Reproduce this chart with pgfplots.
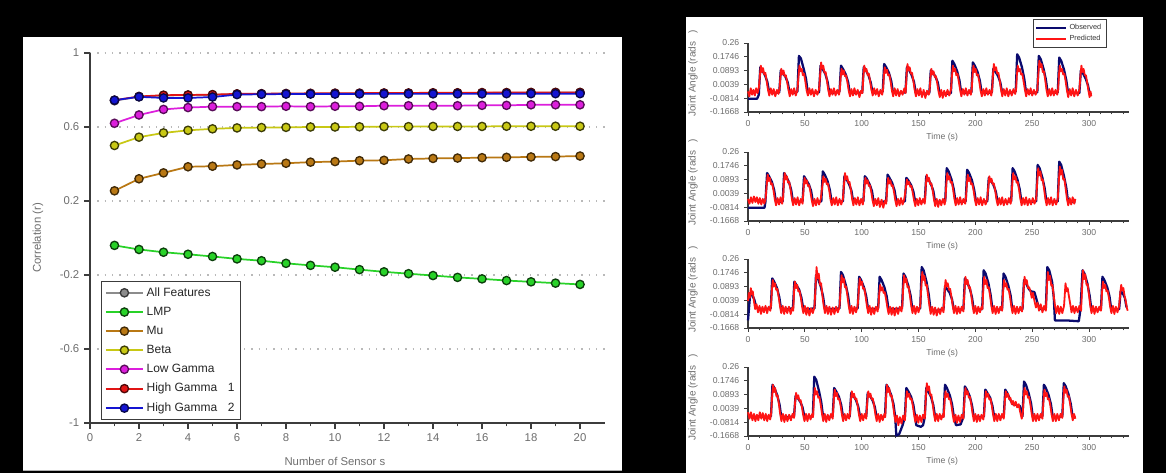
\documentclass[border=0pt]{standalone}
\usepackage{fontspec}
\setmainfont{Liberation Sans}
\usepackage{pgfplots}
\pgfplotsset{compat=1.18}
\definecolor{allf}{RGB}{140,140,140}
\definecolor{lmp}{RGB}{40,210,40}
\definecolor{mu}{RGB}{185,120,20}
\definecolor{beta}{RGB}{200,200,20}
\definecolor{lowg}{RGB}{220,30,220}
\definecolor{hga}{RGB}{225,20,20}
\definecolor{hgb}{RGB}{20,20,210}
\definecolor{obs}{RGB}{10,10,110}
\definecolor{pred}{RGB}{255,20,20}
\definecolor{tk}{RGB}{110,110,110}
\definecolor{ax}{RGB}{60,60,60}
\pgfplotsset{
 ts/.style={scale only axis, width=285.6pt, height=51.75pt, anchor=south west,
  xmin=0, xmax=335, ymin=-0.1668, ymax=0.26,
  axis x line*=bottom, axis y line*=left, axis line style={ax, line width=0.9pt},
  xtick={0,50,...,300}, xticklabels={0,50,100,150,200,250,300},
  minor xtick={10,20,...,330},
  ytick={-0.1668,-0.0814,0.0039,0.0893,0.1746,0.26},
  yticklabels={-0.1668,-0.0814,0.0039,0.0893,0.1746,0.26},
  tick align=outside, major tick length=3pt, minor tick length=1.8pt,
  tick style={ax, line width=0.7pt},
  ticklabel style={font=\fontsize{6.5}{7}\selectfont, text=tk},
  xlabel={Time (s)}, ylabel={Joint Angle (rads\ \ \ )},
  every axis x label/.style={at={(axis description cs:0.51,-0.36)}, anchor=center, font=\fontsize{6.5}{7}\selectfont, text=tk},
  every axis y label/.style={at={(axis description cs:-0.1445,0.56)}, rotate=90, anchor=center, font=\fontsize{7.5}{8}\selectfont, text=tk},
  clip=false},
 obsline/.style={color=obs, line width=1.7pt, line join=round},
 predline/.style={color=pred, line width=1.35pt, line join=round},
}
\begin{document}
\begin{tikzpicture}
\fill[black] (0,0) rectangle (874.5pt,354.75pt);
\fill[white] (17.25pt,1.5pt) rectangle (466.5pt,327pt);
\draw[gray!60, line width=0.6pt] (17.25pt,1.8pt) -- (466.5pt,1.8pt);
\fill[white] (514.5pt,0pt) rectangle (857.25pt,342pt);

% ---------------- left chart ----------------
\begin{axis}[scale only axis, width=385.9pt, height=277.5pt, at={(67.5pt,37.5pt)}, anchor=south west,
  xmin=0, xmax=21, ymin=-1, ymax=1,
  axis x line*=bottom, axis y line*=left, axis line style={ax, line width=1pt},
  xtick={0,2,...,20}, minor xtick={1,3,...,19},
  xticklabels={0,2,4,6,8,10,12,14,16,18,20},
  ytick={-1,-0.6,-0.2,0.2,0.6,1}, yticklabels={-1,-0.6,-0.2,0.2,0.6,1},
  tick align=outside, major tick length=4.5pt, minor tick length=2.5pt,
  tick style={ax, line width=0.9pt},
  ymajorgrids, grid style={gray!55, line width=0.9pt, dash pattern=on 1pt off 4.5pt},
  ticklabel style={font=\fontsize{8.5}{10}\selectfont, text=tk},
  xlabel={Number of Sensor s}, ylabel={Correlation (r)},
  every axis x label/.style={at={(axis description cs:0.476,-0.1045)}, anchor=center, font=\fontsize{8.5}{10}\selectfont, text=tk},
  every axis y label/.style={at={(axis description cs:-0.101,0.5)}, rotate=90, anchor=center, font=\fontsize{8.5}{10}\selectfont, text=tk},
  every axis plot/.append style={line width=1.3pt, mark=*, mark size=3.1pt},
  legend style={at={(axis cs:0.45,-0.232)}, anchor=north west, draw=ax, line width=0.8pt,
    fill=white, font=\fontsize{9}{10}\selectfont, text=black!85, inner sep=2.5pt, row sep=2.6pt},
  legend cell align=left,
  legend image code/.code={\draw[mark repeat=2,mark phase=2] plot coordinates {(0pt,0pt) (14pt,0pt) (28pt,0pt)};},
  clip=false]
\addplot[color=allf, mark options={solid, fill=allf, draw=allf!40!black, line width=1pt}] coordinates {
(1,0.742)(2,0.764)(3,0.770)(4,0.772)(5,0.774)(6,0.778)(7,0.779)(8,0.780)(9,0.780)(10,0.781)
(11,0.781)(12,0.782)(13,0.782)(14,0.783)(15,0.783)(16,0.784)(17,0.785)(18,0.785)(19,0.786)(20,0.786)};
\addplot[color=lmp, mark options={solid, fill=lmp, draw=lmp!30!black, line width=1pt}] coordinates {
(1,-0.040)(2,-0.062)(3,-0.077)(4,-0.088)(5,-0.100)(6,-0.113)(7,-0.123)(8,-0.137)(9,-0.148)(10,-0.158)
(11,-0.171)(12,-0.183)(13,-0.193)(14,-0.203)(15,-0.213)(16,-0.221)(17,-0.230)(18,-0.237)(19,-0.244)(20,-0.251)};
\addplot[color=mu, mark options={solid, fill=mu, draw=mu!35!black, line width=1pt}] coordinates {
(1,0.255)(2,0.320)(3,0.352)(4,0.385)(5,0.388)(6,0.395)(7,0.400)(8,0.404)(9,0.410)(10,0.413)
(11,0.418)(12,0.420)(13,0.427)(14,0.430)(15,0.432)(16,0.434)(17,0.436)(18,0.438)(19,0.440)(20,0.443)};
\addplot[color=beta, mark options={solid, fill=beta, draw=beta!30!black, line width=1pt}] coordinates {
(1,0.500)(2,0.545)(3,0.568)(4,0.582)(5,0.590)(6,0.595)(7,0.597)(8,0.598)(9,0.600)(10,0.600)
(11,0.601)(12,0.602)(13,0.602)(14,0.603)(15,0.603)(16,0.603)(17,0.604)(18,0.604)(19,0.604)(20,0.604)};
\addplot[color=lowg, mark options={solid, fill=lowg, draw=lowg!40!black, line width=1pt}] coordinates {
(1,0.620)(2,0.665)(3,0.695)(4,0.705)(5,0.710)(6,0.710)(7,0.710)(8,0.712)(9,0.710)(10,0.712)
(11,0.712)(12,0.715)(13,0.715)(14,0.715)(15,0.715)(16,0.717)(17,0.717)(18,0.720)(19,0.720)(20,0.720)};
\addplot[color=hga, mark options={solid, fill=hga, draw=hga!35!black, line width=1pt}] coordinates {
(1,0.745)(2,0.765)(3,0.772)(4,0.773)(5,0.775)(6,0.779)(7,0.780)(8,0.781)(9,0.782)(10,0.783)
(11,0.783)(12,0.784)(13,0.784)(14,0.785)(15,0.785)(16,0.786)(17,0.786)(18,0.787)(19,0.787)(20,0.787)};
\addplot[color=hgb, mark options={solid, fill=hgb, draw=hgb!35!black, line width=1pt}] coordinates {
(1,0.745)(2,0.763)(3,0.757)(4,0.757)(5,0.762)(6,0.775)(7,0.777)(8,0.778)(9,0.778)(10,0.778)
(11,0.779)(12,0.779)(13,0.779)(14,0.779)(15,0.779)(16,0.779)(17,0.780)(18,0.780)(19,0.780)(20,0.780)};
\legend{All Features, LMP, Mu, Beta, Low Gamma, High Gamma\hspace{8pt}1, High Gamma\hspace{8pt}2}
\end{axis}

% ---------------- subplot 1 ----------------
\begin{axis}[ts, at={(561pt,270.75pt)},
  legend style={at={(axis description cs:0.748,1.348)}, anchor=north west, draw=ax, line width=0.6pt,
    fill=white, font=\fontsize{5.5}{6}\selectfont, text=black!80, inner sep=1.5pt, row sep=-1pt},
  legend cell align=left,
  legend image code/.code={\draw (0pt,0pt) -- (22pt,0pt);}]
\addplot[obsline] coordinates {
(0,-0.085)(8,-0.085)(9.5,-0.06)
(10.8,0.11)(12.5,0.09)(15,0.06)(17,0.02)(18.5,-0.04)(23,-0.05)
(27.5,-0.045)(28.8,0.09)(30.5,0.075)(33,0.05)(35,0.015)(36.5,-0.045)(40,-0.05)
(43.5,-0.04)(44.8,0.18)(46.5,0.165)(49,0.10)(51,0.04)(52.5,-0.04)(57,-0.05)
(62.5,-0.045)(63.8,0.12)(65.5,0.10)(68,0.07)(70,0.02)(71.5,-0.045)(76,-0.05)
(80.5,-0.04)(81.8,0.12)(83.5,0.10)(86,0.065)(88,0.02)(89.5,-0.045)(95,-0.05)
(100.5,-0.045)(101.8,0.11)(103.5,0.095)(106,0.06)(108,0.015)(109.5,-0.045)(114,-0.05)
(118.5,-0.04)(119.8,0.13)(121.5,0.11)(124,0.075)(126,0.025)(127.5,-0.045)(133,-0.05)
(138.5,-0.045)(139.8,0.11)(141.5,0.095)(144,0.06)(146,0.02)(147.5,-0.045)(154,-0.055)
(159.5,-0.05)(160.8,0.09)(162.5,0.08)(165,0.05)(167,0.015)(168.5,-0.05)(174,-0.055)
(178.5,-0.05)(179.8,0.15)(181.5,0.13)(184,0.085)(186,0.03)(187.5,-0.045)(192,-0.05)
(196.5,-0.045)(197.8,0.14)(199.5,0.12)(202,0.08)(204,0.025)(205.5,-0.045)(210,-0.05)
(214.5,-0.045)(215.8,0.10)(217.5,0.085)(220,0.055)(222,0.015)(223.5,-0.045)(230,-0.05)
(235.5,-0.04)(236.8,0.19)(238.5,0.17)(241,0.11)(243,0.04)(244.5,-0.04)(250,-0.05)
(254.5,-0.045)(255.8,0.18)(257.5,0.16)(260,0.10)(262,0.035)(263.5,-0.04)(268,-0.05)
(272.5,-0.045)(273.8,0.17)(275.5,0.15)(278,0.095)(280,0.03)(281.5,-0.045)(287,-0.05)
(291.5,-0.05)(292.8,0.09)(294.5,0.075)(297,0.04)(299,0.0)(300.5,-0.05)(302,-0.06)};
\addplot[predline] coordinates {
(0,-0.04)(1.2,-0.07)(2.4,-0.02)(3.6,-0.06)(4.8,-0.03)(6,-0.065)(7.2,-0.02)(8.4,-0.05)(9.5,-0.02)
(10.5,0.06)(11.3,0.12)(12.2,0.08)(13.2,0.105)(14.3,0.065)(15.3,0.075)(16.5,0.02)(17.6,-0.03)(18.7,-0.065)(20,-0.02)(21.3,-0.06)(22.6,-0.025)(24,-0.07)(25.5,-0.03)(26.8,-0.055)(27.8,-0.02)
(28.5,0.05)(29.3,0.10)(30.2,0.065)(31.2,0.09)(32.3,0.055)(33.3,0.06)(34.5,0.015)(35.6,-0.03)(36.7,-0.07)(38,-0.025)(39.3,-0.06)(40.6,-0.02)(42,-0.065)(43.5,-0.03)
(44.5,0.06)(45.3,0.12)(46.2,0.085)(47.2,0.10)(48.3,0.06)(49.3,0.07)(50.5,0.02)(51.6,-0.035)(52.7,-0.065)(54,-0.02)(55.3,-0.06)(56.6,-0.025)(58,-0.07)(59.5,-0.03)(61,-0.06)(62.5,-0.025)
(63.5,0.07)(64.3,0.14)(65.2,0.10)(66.2,0.12)(67.3,0.075)(68.3,0.08)(69.5,0.025)(70.6,-0.03)(71.7,-0.07)(73,-0.025)(74.3,-0.06)(75.6,-0.02)(77,-0.065)(78.5,-0.03)(80,-0.06)(80.8,-0.03)
(81.5,0.05)(82.3,0.10)(83.2,0.065)(84.2,0.09)(85.3,0.055)(86.3,0.06)(87.5,0.015)(88.6,-0.035)(89.7,-0.07)(91,-0.025)(92.3,-0.065)(93.6,-0.02)(95,-0.06)(96.5,-0.03)(98,-0.075)(99.5,-0.035)(100.7,-0.05)
(101.5,0.06)(102.3,0.12)(103.2,0.085)(104.2,0.10)(105.3,0.06)(106.3,0.07)(107.5,0.02)(108.6,-0.03)(109.7,-0.065)(111,-0.02)(112.3,-0.06)(113.6,-0.025)(115,-0.07)(116.5,-0.03)(118,-0.06)(118.8,-0.03)
(119.5,0.055)(120.3,0.11)(121.2,0.075)(122.2,0.095)(123.3,0.06)(124.3,0.065)(125.5,0.02)(126.6,-0.035)(127.7,-0.07)(129,-0.02)(130.3,-0.065)(131.6,-0.025)(133,-0.07)(134.5,-0.035)(136,-0.06)(137.5,-0.02)(138.7,-0.05)
(139.5,0.065)(140.3,0.13)(141.2,0.09)(142.2,0.11)(143.3,0.07)(144.3,0.075)(145.5,0.025)(146.6,-0.03)(147.7,-0.07)(149,-0.025)(150.3,-0.065)(151.6,-0.02)(153,-0.075)(154.5,-0.03)(156,-0.08)(157.5,-0.035)(159,-0.06)(159.8,-0.03)
(160.5,0.05)(161.3,0.10)(162.2,0.065)(163.2,0.085)(164.3,0.05)(165.3,0.055)(166.5,0.01)(167.6,-0.04)(168.7,-0.075)(170,-0.03)(171.3,-0.08)(172.6,-0.035)(174,-0.07)(175.5,-0.03)(177,-0.065)(178.5,-0.03)
(179.5,0.06)(180.3,0.12)(181.2,0.085)(182.2,0.10)(183.3,0.06)(184.3,0.07)(185.5,0.02)(186.6,-0.03)(187.7,-0.07)(189,-0.025)(190.3,-0.06)(191.6,-0.02)(193,-0.065)(194.5,-0.03)(196,-0.06)(196.8,-0.03)
(197.5,0.06)(198.3,0.12)(199.2,0.08)(200.2,0.10)(201.3,0.06)(202.3,0.065)(203.5,0.02)(204.6,-0.035)(205.7,-0.07)(207,-0.025)(208.3,-0.065)(209.6,-0.02)(211,-0.06)(212.5,-0.03)(214,-0.065)(214.8,-0.03)
(215.5,0.065)(216.3,0.13)(217.2,0.09)(218.2,0.11)(219.3,0.07)(220.3,0.075)(221.5,0.025)(222.6,-0.03)(223.7,-0.07)(225,-0.025)(226.3,-0.065)(227.6,-0.02)(229,-0.07)(230.5,-0.03)(232,-0.065)(233.5,-0.025)(235,-0.055)(235.8,-0.03)
(236.5,0.06)(237.3,0.12)(238.2,0.085)(239.2,0.10)(240.3,0.065)(241.3,0.07)(242.5,0.02)(243.6,-0.03)(244.7,-0.07)(246,-0.025)(247.3,-0.06)(248.6,-0.02)(250,-0.065)(251.5,-0.03)(253,-0.06)(254.5,-0.03)
(255.5,0.075)(256.3,0.15)(257.2,0.11)(258.2,0.13)(259.3,0.08)(260.3,0.085)(261.5,0.03)(262.6,-0.03)(263.7,-0.07)(265,-0.025)(266.3,-0.065)(267.6,-0.02)(269,-0.065)(270.5,-0.03)(272,-0.06)(272.8,-0.03)
(273.5,0.06)(274.3,0.12)(275.2,0.085)(276.2,0.10)(277.3,0.065)(278.3,0.07)(279.5,0.02)(280.6,-0.035)(281.7,-0.075)(283,-0.025)(284.3,-0.065)(285.6,-0.02)(287,-0.07)(288.5,-0.03)(290,-0.065)(291.5,-0.03)
(292.5,0.06)(293.3,0.12)(294.2,0.08)(295.2,0.10)(296.3,0.06)(297.3,0.06)(298.5,0.01)(299.6,-0.04)(300.5,-0.075)(301.3,-0.04)(302,-0.07)};
\addlegendimage{obs, line width=2.2pt}
\legend{Observed, Predicted}
\end{axis}

% ---------------- subplot 2 ----------------
\begin{axis}[ts, at={(561pt,189pt)}]
\addplot[obsline] coordinates {
(0,-0.085)(14.5,-0.085)(15.3,-0.05)
(16.8,0.13)(18.5,0.11)(21,0.075)(23,0.025)(24.5,-0.045)(28,-0.05)(30.5,-0.045)
(31.8,0.13)(33.5,0.11)(36,0.075)(38,0.025)(39.5,-0.045)(44,-0.05)(48,-0.045)
(49.3,0.11)(51,0.09)(53.5,0.06)(55.5,0.02)(57,-0.045)(61,-0.05)(64.5,-0.045)
(65.8,0.14)(67.5,0.12)(70,0.08)(72,0.025)(73.5,-0.045)(78,-0.05)(83.5,-0.045)
(84.8,0.11)(86.5,0.095)(89,0.06)(91,0.02)(92.5,-0.045)(97,-0.05)(101.5,-0.045)
(102.8,0.11)(104.5,0.095)(107,0.06)(109,0.02)(110.5,-0.045)(116,-0.05)(121.5,-0.045)
(122.8,0.12)(124.5,0.10)(127,0.065)(129,0.02)(130.5,-0.045)(134,-0.05)(138,-0.045)
(139.3,0.10)(141,0.085)(143.5,0.055)(145.5,0.015)(147,-0.045)(151,-0.05)(155.5,-0.045)
(156.8,0.11)(158.5,0.095)(161,0.06)(163,0.02)(164.5,-0.045)(169,-0.05)(173.5,-0.045)
(174.8,0.16)(176.5,0.14)(179,0.09)(181,0.03)(182.5,-0.045)(187,-0.05)(191.5,-0.045)
(192.8,0.15)(194.5,0.13)(197,0.085)(199,0.025)(200.5,-0.045)(205,-0.05)(210.5,-0.045)
(211.8,0.10)(213.5,0.085)(216,0.055)(218,0.015)(219.5,-0.045)(225,-0.05)(231.5,-0.045)
(232.8,0.16)(234.5,0.14)(237,0.09)(239,0.03)(240.5,-0.045)(246,-0.05)(253.5,-0.045)
(254.8,0.18)(256.5,0.16)(259,0.10)(261,0.035)(262.5,-0.045)(267,-0.05)(272.5,-0.045)
(273.8,0.20)(275.5,0.18)(278,0.11)(280,0.04)(281.5,-0.045)(285,-0.05)(288,-0.05)};
\addplot[predline] coordinates {
(0,-0.03)(1.3,-0.06)(2.6,-0.02)(3.9,-0.055)(5.2,-0.015)(6.5,-0.05)(7.8,-0.02)(9.1,-0.06)(10.4,-0.025)(11.7,-0.065)(13,-0.03)(14.3,-0.06)(15.5,-0.03)
(16.5,0.06)(17.3,0.12)(18.2,0.08)(19.2,0.10)(20.3,0.06)(21.3,0.065)(22.5,0.02)(23.6,-0.035)(24.7,-0.07)(26,-0.025)(27.3,-0.065)(28.6,-0.02)(30,-0.06)(30.8,-0.03)
(31.5,0.065)(32.3,0.13)(33.2,0.09)(34.2,0.11)(35.3,0.07)(36.3,0.075)(37.5,0.025)(38.6,-0.03)(39.7,-0.07)(41,-0.025)(42.3,-0.065)(43.6,-0.02)(45,-0.07)(46.5,-0.03)(48,-0.06)
(49,0.05)(49.8,0.10)(50.7,0.065)(51.7,0.085)(52.8,0.05)(53.8,0.055)(55,0.01)(56.1,-0.04)(57.2,-0.075)(58.5,-0.03)(59.8,-0.07)(61.1,-0.025)(62.5,-0.065)(64,-0.03)
(65.5,0.055)(66.3,0.11)(67.2,0.075)(68.2,0.095)(69.3,0.06)(70.3,0.065)(71.5,0.02)(72.6,-0.035)(73.7,-0.07)(75,-0.025)(76.3,-0.065)(77.6,-0.02)(79,-0.07)(80.5,-0.03)(82,-0.065)(83.5,-0.03)
(84.5,0.065)(85.3,0.13)(86.2,0.09)(87.2,0.11)(88.3,0.07)(89.3,0.075)(90.5,0.025)(91.6,-0.03)(92.7,-0.07)(94,-0.025)(95.3,-0.065)(96.6,-0.02)(98,-0.07)(99.5,-0.03)(101,-0.065)(101.7,-0.03)
(102.5,0.05)(103.3,0.10)(104.2,0.065)(105.2,0.085)(106.3,0.05)(107.3,0.055)(108.5,0.01)(109.6,-0.04)(110.7,-0.075)(112,-0.03)(113.3,-0.07)(114.6,-0.025)(116,-0.08)(117.5,-0.035)(119,-0.085)(120.5,-0.04)(121.6,-0.06)
(122.5,0.05)(123.3,0.10)(124.2,0.065)(125.2,0.085)(126.3,0.05)(127.3,0.055)(128.5,0.01)(129.6,-0.04)(130.7,-0.075)(132,-0.03)(133.3,-0.07)(134.6,-0.025)(136,-0.065)(137.5,-0.03)
(139,0.045)(139.8,0.09)(140.7,0.06)(141.7,0.075)(142.8,0.045)(143.8,0.05)(145,0.005)(146.1,-0.04)(147.2,-0.075)(148.5,-0.03)(149.8,-0.07)(151.1,-0.025)(152.5,-0.065)(154,-0.03)(155.5,-0.06)
(156.5,0.06)(157.3,0.12)(158.2,0.08)(159.2,0.10)(160.3,0.06)(161.3,0.065)(162.5,0.02)(163.6,-0.035)(164.7,-0.075)(166,-0.03)(167.3,-0.08)(168.6,-0.035)(170,-0.07)(171.5,-0.03)(173,-0.065)(173.7,-0.03)
(174.5,0.065)(175.3,0.13)(176.2,0.09)(177.2,0.11)(178.3,0.07)(179.3,0.075)(180.5,0.025)(181.6,-0.03)(182.7,-0.07)(184,-0.025)(185.3,-0.065)(186.6,-0.02)(188,-0.065)(189.5,-0.03)(191,-0.06)(191.7,-0.03)
(192.5,0.06)(193.3,0.12)(194.2,0.08)(195.2,0.10)(196.3,0.06)(197.3,0.065)(198.5,0.02)(199.6,-0.035)(200.7,-0.07)(202,-0.025)(203.3,-0.065)(204.6,-0.02)(206,-0.07)(207.5,-0.03)(209,-0.065)(210.5,-0.03)
(211.5,0.055)(212.3,0.11)(213.2,0.075)(214.2,0.095)(215.3,0.06)(216.3,0.065)(217.5,0.02)(218.6,-0.035)(219.7,-0.07)(221,-0.025)(222.3,-0.065)(223.6,-0.02)(225,-0.07)(226.5,-0.03)(228,-0.065)(229.5,-0.025)(231,-0.06)(231.7,-0.03)
(232.5,0.065)(233.3,0.13)(234.2,0.09)(235.2,0.11)(236.3,0.07)(237.3,0.075)(238.5,0.025)(239.6,-0.03)(240.7,-0.07)(242,-0.025)(243.3,-0.065)(244.6,-0.02)(246,-0.07)(247.5,-0.03)(249,-0.065)(250.5,-0.025)(252,-0.06)(253.5,-0.03)
(254.5,0.08)(255.3,0.16)(256.2,0.115)(257.2,0.14)(258.3,0.085)(259.3,0.09)(260.5,0.03)(261.6,-0.03)(262.7,-0.07)(264,-0.025)(265.3,-0.065)(266.6,-0.02)(268,-0.07)(269.5,-0.03)(271,-0.065)(272.5,-0.03)
(273.5,0.085)(274.3,0.17)(275.2,0.12)(276.2,0.15)(277.3,0.09)(278.3,0.095)(279.5,0.03)(280.6,-0.03)(281.7,-0.07)(283,-0.025)(284.3,-0.065)(285.6,-0.02)(287,-0.06)(288,-0.03)};
\end{axis}

% ---------------- subplot 3 ----------------
\begin{axis}[ts, at={(561pt,108.75pt)}]
\addplot[obsline] coordinates {
(0,-0.12)(0.8,-0.05)(2,0.05)(3.5,0.04)(5.5,0.01)(7,-0.03)(8.5,-0.045)(14,-0.05)(20,-0.045)
(21.3,0.14)(23,0.12)(25.5,0.08)(27.5,0.025)(29,-0.045)(34,-0.05)(39.5,-0.045)
(40.8,0.12)(42.5,0.10)(45,0.07)(47,0.02)(48.5,-0.045)(53,-0.05)(58.5,-0.045)
(59.8,0.16)(61.5,0.14)(64,0.09)(66,0.03)(67.5,-0.045)(74,-0.05)(80.5,-0.045)
(81.8,0.18)(83.5,0.16)(86,0.10)(88,0.035)(89.5,-0.045)(93,-0.05)(96.5,-0.045)
(97.8,0.15)(99.5,0.13)(102,0.085)(104,0.03)(105.5,-0.045)(110,-0.05)(114.5,-0.045)
(115.8,0.15)(117.5,0.13)(120,0.085)(122,0.03)(123.5,-0.045)(129,-0.05)(135.5,-0.045)
(136.8,0.17)(138.5,0.15)(141,0.095)(143,0.035)(144.5,-0.045)(148,-0.05)(151.5,-0.045)
(152.8,0.21)(154.5,0.19)(157,0.12)(159,0.04)(160.5,-0.05)(166,-0.06)(172,-0.05)
(173.3,0.09)(175,0.075)(177.5,0.05)(179.5,0.01)(181,-0.05)(185,-0.055)(189.5,-0.05)
(190.8,0.14)(192.5,0.12)(195,0.08)(197,0.025)(198.5,-0.05)(202,-0.055)(206,-0.05)
(207.3,0.19)(209,0.17)(211.5,0.11)(213.5,0.035)(215,-0.05)(219,-0.055)(223.5,-0.05)
(224.8,0.17)(226.5,0.15)(229,0.095)(231,0.035)(232.5,-0.05)(237,-0.055)(241.5,-0.05)
(242.8,0.13)(244.5,0.11)(247,0.075)(249,0.06)(252,0.055)(255,-0.02)(257,-0.05)(262,-0.05)
(263.3,0.21)(265,0.19)(267.5,0.12)(269,0.02)(270,-0.12)(280,-0.12)(291,-0.125)(292.5,-0.05)
(294.3,0.19)(296,0.17)(298.5,0.11)(300.5,0.035)(302,-0.05)(306,-0.055)(310.5,-0.05)
(311.8,0.15)(313.5,0.13)(316,0.085)(318,0.03)(319.5,-0.05)(323,-0.055)(326.5,-0.05)
(327.8,0.06)(329.5,0.05)(331.5,0.02)(333,-0.04)};
\addplot[predline] coordinates {
(0,0.0)(0.8,0.05)(1.6,0.02)(2.5,0.08)(3.3,0.04)(4.2,0.06)(5.2,0.0)(6.3,-0.05)(7.5,-0.02)(8.8,-0.07)(10.1,-0.03)(11.4,-0.08)(12.7,-0.035)(14,-0.07)(15.4,-0.03)(16.8,-0.075)(18.2,-0.035)(19.6,-0.06)(20.2,-0.03)
(21,0.065)(21.8,0.13)(22.7,0.09)(23.7,0.11)(24.8,0.07)(25.8,0.075)(27,0.025)(28.1,-0.03)(29.2,-0.075)(30.5,-0.03)(31.8,-0.08)(33.1,-0.035)(34.5,-0.075)(36,-0.035)(37.5,-0.08)(39,-0.04)(39.8,-0.06)
(40.5,0.06)(41.3,0.12)(42.2,0.08)(43.2,0.10)(44.3,0.06)(45.3,0.065)(46.5,0.02)(47.6,-0.035)(48.7,-0.075)(50,-0.03)(51.3,-0.085)(52.6,-0.04)(54,-0.09)(55.5,-0.045)(57,-0.075)(58.5,-0.035)
(59.5,0.10)(60.3,0.21)(61.2,0.14)(62.2,0.17)(63.3,0.10)(64.3,0.11)(65.5,0.03)(66.6,-0.03)(67.7,-0.075)(69,-0.03)(70.3,-0.08)(71.6,-0.035)(73,-0.085)(74.5,-0.04)(76,-0.08)(77.5,-0.035)(79,-0.07)(80.5,-0.035)
(81.5,0.08)(82.3,0.16)(83.2,0.115)(84.2,0.14)(85.3,0.085)(86.3,0.09)(87.5,0.03)(88.6,-0.03)(89.7,-0.075)(91,-0.03)(92.3,-0.08)(93.6,-0.035)(95,-0.07)(96.5,-0.03)
(97.5,0.07)(98.3,0.14)(99.2,0.10)(100.2,0.12)(101.3,0.075)(102.3,0.08)(103.5,0.025)(104.6,-0.03)(105.7,-0.075)(107,-0.03)(108.3,-0.085)(109.6,-0.04)(111,-0.08)(112.5,-0.035)(114,-0.065)(114.7,-0.03)
(115.5,0.05)(116.3,0.10)(117.2,0.065)(118.2,0.085)(119.3,0.05)(120.3,0.055)(121.5,0.01)(122.6,-0.04)(123.7,-0.08)(125,-0.035)(126.3,-0.085)(127.6,-0.04)(129,-0.09)(130.5,-0.04)(132,-0.08)(133.5,-0.035)(135,-0.065)(135.7,-0.03)
(136.5,0.08)(137.3,0.16)(138.2,0.115)(139.2,0.14)(140.3,0.085)(141.3,0.09)(142.5,0.03)(143.6,-0.03)(144.7,-0.075)(146,-0.03)(147.3,-0.08)(148.6,-0.035)(150,-0.07)(151.5,-0.03)
(152.5,0.09)(153.3,0.18)(154.2,0.13)(155.2,0.155)(156.3,0.095)(157.3,0.10)(158.5,0.03)(159.6,-0.03)(160.7,-0.08)(162,-0.035)(163.3,-0.085)(164.6,-0.04)(166,-0.09)(167.5,-0.045)(169,-0.08)(170.5,-0.04)(172,-0.07)
(173,0.065)(173.8,0.13)(174.7,0.09)(175.7,0.11)(176.8,0.07)(177.8,0.075)(179,0.025)(180.1,-0.03)(181.2,-0.075)(182.5,-0.03)(183.8,-0.08)(185.1,-0.035)(186.5,-0.075)(188,-0.035)(189.5,-0.065)
(190.5,0.075)(191.3,0.15)(192.2,0.105)(193.2,0.13)(194.3,0.08)(195.3,0.085)(196.5,0.03)(197.6,-0.03)(198.7,-0.075)(200,-0.03)(201.3,-0.08)(202.6,-0.035)(204,-0.07)(205.5,-0.035)(206.2,-0.05)
(207,0.075)(207.8,0.15)(208.7,0.105)(209.7,0.13)(210.8,0.08)(211.8,0.085)(213,0.03)(214.1,-0.03)(215.2,-0.075)(216.5,-0.03)(217.8,-0.08)(219.1,-0.035)(220.5,-0.075)(222,-0.035)(223.5,-0.06)
(224.5,0.065)(225.3,0.13)(226.2,0.09)(227.2,0.11)(228.3,0.07)(229.3,0.075)(230.5,0.025)(231.6,-0.03)(232.7,-0.075)(234,-0.03)(235.3,-0.08)(236.6,-0.035)(238,-0.075)(239.5,-0.035)(241,-0.065)(241.7,-0.03)
(242.5,0.075)(243.3,0.15)(244.2,0.105)(245.2,0.13)(246.3,0.08)(247.3,0.085)(248.5,0.06)(249.6,0.02)(250.7,0.05)(252,0.0)(253.3,-0.04)(254.6,-0.01)(256,-0.06)(257.5,-0.02)(259,-0.07)(260.5,-0.03)(262,-0.06)
(263,0.09)(263.8,0.18)(264.7,0.13)(265.7,0.155)(266.8,0.095)(267.8,0.10)(269,0.03)(270.1,-0.03)(271.2,-0.075)(272.5,-0.03)(273.8,-0.08)(275.1,-0.035)(276.5,-0.075)(278,-0.03)
(278.5,0.02)(279.3,0.11)(280.2,0.06)(281.2,0.08)(282.3,0.03)(283.5,-0.02)(284.6,-0.07)(285.9,-0.03)(287.2,-0.075)(288.5,-0.035)(290,-0.07)(291.5,-0.03)(293,-0.06)
(294,0.095)(294.8,0.19)(295.7,0.135)(296.7,0.165)(297.8,0.10)(298.8,0.105)(300,0.035)(301.1,-0.03)(302.2,-0.075)(303.5,-0.03)(304.8,-0.08)(306.1,-0.035)(307.5,-0.07)(309,-0.035)(310.5,-0.06)
(311.5,0.06)(312.3,0.12)(313.2,0.08)(314.2,0.10)(315.3,0.06)(316.3,0.065)(317.5,0.02)(318.6,-0.035)(319.7,-0.075)(321,-0.03)(322.3,-0.08)(323.6,-0.035)(325,-0.07)(326.5,-0.03)
(327.5,0.05)(328.3,0.10)(329.2,0.065)(330.2,0.08)(331.3,0.03)(332.3,0.0)(333.2,-0.04)(334,-0.06)};
\end{axis}

% ---------------- subplot 4 ----------------
\begin{axis}[ts, at={(561pt,27.75pt)}]
\addplot[obsline] coordinates {
(0,-0.04)(5,-0.05)(10,-0.045)(15,-0.05)(20.2,-0.045)
(21.5,0.15)(23.2,0.13)(25.7,0.085)(27.7,0.03)(29.2,-0.045)(35,-0.05)(40.5,-0.045)
(41.8,0.08)(43.5,0.07)(46,0.045)(48,0.01)(49.5,-0.045)(53,-0.05)(57,-0.045)
(58.3,0.20)(60,0.18)(62.5,0.11)(64.5,0.04)(66,-0.045)(70,-0.05)(74.5,-0.045)
(75.8,0.13)(77.5,0.11)(80,0.075)(82,0.025)(83.5,-0.045)(87,-0.05)(89.5,-0.045)
(90.8,0.10)(92.5,0.085)(95,0.055)(97,0.015)(98.5,-0.045)(101,-0.05)(104,-0.045)
(105.3,0.10)(107,0.085)(109.5,0.055)(111.5,0.015)(113,-0.045)(117,-0.05)(120.5,-0.045)
(121.8,0.15)(123.5,0.13)(126,0.085)(128,0.03)(129.5,-0.05)(130.5,-0.165)(133,-0.155)(136,-0.10)(138,-0.05)
(139.3,0.13)(141,0.11)(143.5,0.075)(145.5,0.025)(147,-0.045)(148,-0.10)(152,-0.11)(154,-0.10)(155.5,-0.05)
(156.8,0.13)(158.5,0.11)(161,0.075)(163,0.025)(164.5,-0.045)(168,-0.05)(172,-0.045)
(173.3,0.15)(175,0.13)(177.5,0.085)(179.5,0.03)(181,-0.045)(183,-0.10)(187,-0.095)(189.5,-0.05)
(190.8,0.14)(192.5,0.12)(195,0.08)(197,0.025)(198.5,-0.045)(203,-0.05)(207.5,-0.045)
(208.8,0.12)(210.5,0.10)(213,0.07)(215,0.02)(216.5,-0.045)(221,-0.05)(225,-0.045)
(226.3,0.12)(228,0.10)(230.5,0.06)(233,0.03)(236,0.025)(239,0.02)(241,-0.02)(241.5,-0.045)
(242.8,0.17)(244.5,0.15)(247,0.095)(249,0.035)(250.5,-0.045)(255,-0.05)(259,-0.045)
(260.3,0.15)(262,0.13)(264.5,0.085)(266.5,0.03)(268,-0.045)(272,-0.05)(276.5,-0.045)
(277.8,0.16)(279.5,0.14)(282,0.09)(284,0.03)(285.5,-0.045)(288,-0.05)};
\addplot[predline] coordinates {
(0,-0.02)(1.3,-0.06)(2.6,-0.02)(3.9,-0.07)(5.2,-0.03)(6.5,-0.075)(7.8,-0.035)(9.1,-0.07)(10.4,-0.02)(11.7,-0.06)(13,-0.025)(14.3,-0.07)(15.6,-0.03)(16.9,-0.075)(18.2,-0.035)(19.5,-0.065)(20.3,-0.03)
(21.2,0.075)(22,0.15)(22.9,0.105)(23.9,0.13)(25,0.08)(26,0.085)(27.2,0.03)(28.3,-0.03)(29.4,-0.075)(30.7,-0.03)(32,-0.08)(33.3,-0.035)(34.7,-0.075)(36.2,-0.035)(37.7,-0.07)(39.2,-0.03)(40.5,-0.055)
(41.5,0.05)(42.3,0.10)(43.2,0.065)(44.2,0.085)(45.3,0.05)(46.3,0.055)(47.5,0.01)(48.6,-0.04)(49.7,-0.075)(51,-0.03)(52.3,-0.075)(53.6,-0.03)(55,-0.065)(56.5,-0.03)(57.2,-0.05)
(58,0.065)(58.8,0.13)(59.7,0.09)(60.7,0.11)(61.8,0.07)(62.8,0.075)(64,0.025)(65.1,-0.03)(66.2,-0.075)(67.5,-0.03)(68.8,-0.08)(70.1,-0.035)(71.5,-0.07)(73,-0.03)(74.5,-0.06)
(75.5,0.06)(76.3,0.12)(77.2,0.08)(78.2,0.10)(79.3,0.06)(80.3,0.065)(81.5,0.02)(82.6,-0.035)(83.7,-0.075)(85,-0.03)(86.3,-0.07)(87.6,-0.03)(89,-0.06)(89.7,-0.03)
(90.5,0.055)(91.3,0.11)(92.2,0.075)(93.2,0.095)(94.3,0.06)(95.3,0.065)(96.5,0.02)(97.6,-0.035)(98.7,-0.075)(100,-0.03)(101.3,-0.07)(102.6,-0.03)(104,-0.06)
(105,0.055)(105.8,0.11)(106.7,0.075)(107.7,0.095)(108.8,0.06)(109.8,0.065)(111,0.02)(112.1,-0.035)(113.2,-0.075)(114.5,-0.03)(115.8,-0.08)(117.1,-0.035)(118.5,-0.07)(120,-0.03)(120.7,-0.05)
(121.5,0.075)(122.3,0.15)(123.2,0.105)(124.2,0.13)(125.3,0.08)(126.3,0.085)(127.5,0.03)(128.6,-0.03)(129.7,-0.08)(131,-0.04)(132.3,-0.10)(133.6,-0.05)(135,-0.09)(136.5,-0.04)(138,-0.07)
(139,0.055)(139.8,0.11)(140.7,0.075)(141.7,0.095)(142.8,0.06)(143.8,0.065)(145,0.02)(146.1,-0.035)(147.2,-0.08)(148.5,-0.035)(149.8,-0.085)(151.1,-0.04)(152.5,-0.08)(154,-0.035)(155.5,-0.06)
(156.5,0.08)(157.3,0.16)(158.2,0.115)(159.2,0.14)(160.3,0.085)(161.3,0.09)(162.5,0.03)(163.6,-0.03)(164.7,-0.075)(166,-0.03)(167.3,-0.075)(168.6,-0.03)(170,-0.065)(171.5,-0.03)(172.2,-0.05)
(173,0.055)(173.8,0.11)(174.7,0.075)(175.7,0.095)(176.8,0.06)(177.8,0.065)(179,0.02)(180.1,-0.035)(181.2,-0.08)(182.5,-0.035)(183.8,-0.085)(185.1,-0.04)(186.5,-0.08)(188,-0.035)(189.5,-0.06)
(190.5,0.065)(191.3,0.13)(192.2,0.09)(193.2,0.11)(194.3,0.07)(195.3,0.075)(196.5,0.025)(197.6,-0.03)(198.7,-0.075)(200,-0.03)(201.3,-0.08)(202.6,-0.035)(204,-0.075)(205.5,-0.035)(207,-0.065)(207.7,-0.03)
(208.5,0.055)(209.3,0.11)(210.2,0.075)(211.2,0.095)(212.3,0.06)(213.3,0.065)(214.5,0.02)(215.6,-0.035)(216.7,-0.075)(218,-0.03)(219.3,-0.075)(220.6,-0.03)(222,-0.07)(223.5,-0.03)(225,-0.06)
(226,0.055)(226.8,0.11)(227.7,0.075)(228.7,0.095)(229.8,0.06)(230.8,0.07)(232,0.03)(233.1,0.05)(234.2,0.02)(235.5,0.045)(236.8,0.01)(238.1,0.03)(239.5,-0.02)(240.8,-0.06)(241.7,-0.03)
(242.5,0.065)(243.3,0.13)(244.2,0.09)(245.2,0.11)(246.3,0.07)(247.3,0.075)(248.5,0.025)(249.6,-0.03)(250.7,-0.075)(252,-0.03)(253.3,-0.075)(254.6,-0.03)(256,-0.07)(257.5,-0.03)(259,-0.06)
(260,0.06)(260.8,0.12)(261.7,0.08)(262.7,0.10)(263.8,0.06)(264.8,0.065)(266,0.02)(267.1,-0.035)(268.2,-0.075)(269.5,-0.03)(270.8,-0.075)(272.1,-0.03)(273.5,-0.07)(275,-0.03)(276.5,-0.055)
(277.5,0.07)(278.3,0.14)(279.2,0.10)(280.2,0.12)(281.3,0.075)(282.3,0.08)(283.5,0.025)(284.6,-0.03)(285.7,-0.07)(286.8,-0.03)(288,-0.06)};
\end{axis}
\pgfresetboundingbox
\path[use as bounding box] (0,0) rectangle (874.5pt,354.75pt);
\end{tikzpicture}
\end{document}
